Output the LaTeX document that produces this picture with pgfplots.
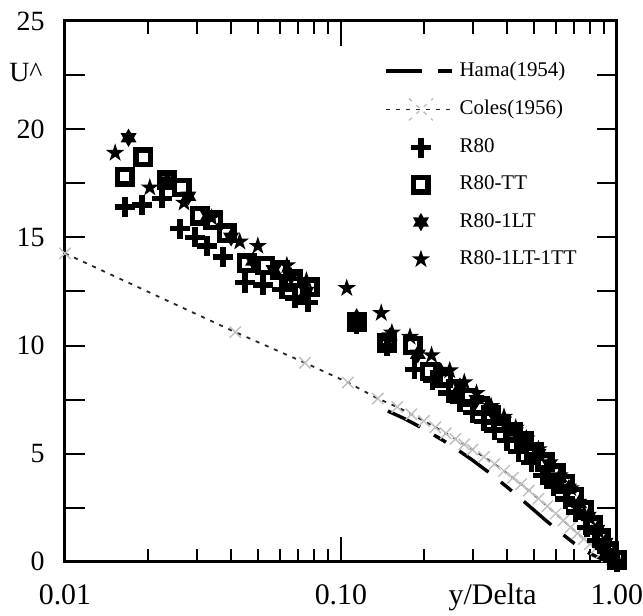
\documentclass[border=0pt]{standalone}
\usepackage{fontspec}
\setmainfont{Liberation Serif}
\usepackage{pgfplots}
\pgfplotsset{compat=1.18}
\usetikzlibrary{plotmarks}

% filled six-pointed star
\pgfdeclareplotmark{hexstar}{%
  \pgfpathmoveto{\pgfqpointpolar{90}{\pgfplotmarksize}}%
  \pgfpathlineto{\pgfqpointpolar{120}{0.577\pgfplotmarksize}}%
  \pgfpathlineto{\pgfqpointpolar{150}{\pgfplotmarksize}}%
  \pgfpathlineto{\pgfqpointpolar{180}{0.577\pgfplotmarksize}}%
  \pgfpathlineto{\pgfqpointpolar{210}{\pgfplotmarksize}}%
  \pgfpathlineto{\pgfqpointpolar{240}{0.577\pgfplotmarksize}}%
  \pgfpathlineto{\pgfqpointpolar{270}{\pgfplotmarksize}}%
  \pgfpathlineto{\pgfqpointpolar{300}{0.577\pgfplotmarksize}}%
  \pgfpathlineto{\pgfqpointpolar{330}{\pgfplotmarksize}}%
  \pgfpathlineto{\pgfqpointpolar{0}{0.577\pgfplotmarksize}}%
  \pgfpathlineto{\pgfqpointpolar{30}{\pgfplotmarksize}}%
  \pgfpathlineto{\pgfqpointpolar{60}{0.577\pgfplotmarksize}}%
  \pgfpathclose\pgfusepathqfill}
% filled five-pointed star
\pgfdeclareplotmark{pentstar}{%
  \pgfpathmoveto{\pgfqpointpolar{90}{\pgfplotmarksize}}%
  \pgfpathlineto{\pgfqpointpolar{126}{0.382\pgfplotmarksize}}%
  \pgfpathlineto{\pgfqpointpolar{162}{\pgfplotmarksize}}%
  \pgfpathlineto{\pgfqpointpolar{198}{0.382\pgfplotmarksize}}%
  \pgfpathlineto{\pgfqpointpolar{234}{\pgfplotmarksize}}%
  \pgfpathlineto{\pgfqpointpolar{270}{0.382\pgfplotmarksize}}%
  \pgfpathlineto{\pgfqpointpolar{306}{\pgfplotmarksize}}%
  \pgfpathlineto{\pgfqpointpolar{342}{0.382\pgfplotmarksize}}%
  \pgfpathlineto{\pgfqpointpolar{18}{\pgfplotmarksize}}%
  \pgfpathlineto{\pgfqpointpolar{54}{0.382\pgfplotmarksize}}%
  \pgfpathclose\pgfusepathqfill}

\pgfplotsset{coles legend/.style={legend image code/.code={%
  \draw[##1, mark=none] (0bp,0bp) -- (35bp,0bp);
  \draw[gray!50, line width=0.7bp] (11.5bp,-5.5bp) -- (23.5bp,5.5bp) (11.5bp,5.5bp) -- (23.5bp,-5.5bp);}}}

\begin{document}
\begin{tikzpicture}
\begin{axis}[
  scale only axis, width=276bp, height=270.5bp,
  clip mode=individual,
  xmode=log, xmin=0.01, xmax=1, ymin=0, ymax=25,
  xtick={0.01,0.1,1}, xticklabels={0.01,0.10,1.00},
  minor xtick={0.02,0.03,0.04,0.05,0.06,0.07,0.08,0.09,0.2,0.3,0.4,0.5,0.6,0.7,0.8,0.9},
  ytick={0,5,10,15,20,25}, minor ytick={2.5,7.5,12.5,17.5,22.5},
  tick align=inside,
  xtick style={/pgfplots/major tick length=12.5bp, /pgfplots/minor tick length=6.5bp, line width=1bp, black},
  ytick style={/pgfplots/major tick length=10bp, /pgfplots/minor tick length=10bp, line width=1bp, black},
  axis line style={line width=1.5bp},
  tick label style={inner sep=0pt},
  xticklabel style={font=\fontsize{15}{16}\selectfont, yshift=-11bp},
  yticklabel style={font=\fontsize{14}{15}\selectfont, xshift=-10bp},
  /pgf/number format/assume math mode=true,
  legend style={draw=none, fill=none, at={(0.567,0.935)}, anchor=north west,
    font=\fontsize{10.5}{11}\selectfont, row sep=8bp,
    nodes={inner sep=1bp, text height=6.8bp, text depth=1.8bp}},
  legend cell align=left,
  /tikz/every even column/.append style={column sep=10.5bp},
  legend image code/.code={\draw[mark repeat=2,mark phase=2,#1] plot coordinates {(0bp,0bp) (17.5bp,0bp) (35bp,0bp)};},
]
% Hama (1954)
\addplot[black, line width=1.7bp, dash pattern=on 18bp off 8bp on 7bp off 8bp] coordinates {
(0.148,6.97) (0.17,6.62) (0.2,6.14) (0.25,5.40) (0.3,4.70) (0.35,4.06) (0.4,3.46)
(0.45,2.90) (0.5,2.40) (0.55,1.94) (0.6,1.54) (0.65,1.18) (0.7,0.86) (0.75,0.60)
(0.8,0.38) (0.85,0.22) (0.9,0.10) (0.95,0.02) (1.0,0.0)};
\addlegendentry{Hama(1954)}
% Coles (1956)
\addplot[black!85, line width=0.9bp, dash pattern=on 2bp off 3bp, mark=x, mark size=4bp,
  mark options={solid, gray!50, line width=0.7bp}, coles legend]
coordinates {
(0.01,14.26) (0.0414,10.62) (0.0741,9.2) (0.106,8.29) (0.136,7.55) (0.16,7.16)
(0.18,6.82) (0.20,6.51) (0.22,6.22) (0.24,5.94) (0.26,5.68) (0.28,5.43) (0.30,5.19)
(0.33,4.85) (0.36,4.52) (0.39,4.20) (0.42,3.89) (0.45,3.59) (0.48,3.30) (0.52,2.92)
(0.56,2.57) (0.60,2.23) (0.64,1.91) (0.68,1.60) (0.72,1.32) (0.76,1.06) (0.80,0.82)
(0.84,0.61) (0.88,0.42) (0.92,0.25) (0.96,0.11) (1.0,0.0)};
\addlegendentry{Coles(1956)}
% R80
\addplot[only marks, mark=+, mark size=5bp, line width=2.7bp, black] coordinates {
(0.0165,16.4) (0.0190,16.5) (0.0225,16.8) (0.0261,15.4) (0.0296,15.0) (0.0327,14.6)
(0.0374,14.1) (0.0449,12.9) (0.0522,12.8) (0.0611,12.6) (0.0681,12.2) (0.0759,12.0)
(0.114,11.0) (0.147,10.0) (0.185,8.9) (0.215,8.4) (0.245,7.8) (0.27,7.4) (0.30,6.9)
(0.33,6.5) (0.36,6.1) (0.40,5.6) (0.44,5.1) (0.49,4.6) (0.54,4.0) (0.59,3.5)
(0.65,2.9) (0.71,2.3) (0.78,1.6) (0.85,1.0) (0.92,0.5) (1.00,0.0)};
\addlegendentry{R80}
% R80-TT
\addplot[only marks, mark=square, mark size=3.6bp, line width=2.7bp, black] coordinates {
(0.0165,17.8) (0.0192,18.7) (0.0234,17.65) (0.0265,17.3) (0.0308,16.0) (0.0344,15.8)
(0.0386,15.2) (0.0456,13.8) (0.0531,13.7) (0.0600,13.5) (0.0670,13.1) (0.0771,12.7)
(0.114,11.1) (0.147,10.1) (0.182,10.0) (0.21,8.8) (0.235,8.5) (0.26,8.0) (0.29,7.6)
(0.32,7.2) (0.35,6.8) (0.38,6.4) (0.42,6.0) (0.46,5.6) (0.50,5.1) (0.55,4.6)
(0.60,4.1) (0.65,3.6) (0.70,3.0) (0.76,2.4) (0.82,1.7) (0.88,1.1) (0.94,0.5) (1.00,0.1)};
\addlegendentry{R80-TT}
% R80-1LT
\addplot[only marks, mark=hexstar, mark size=4.6bp, black] coordinates {
(0.017,19.6) (0.0235,17.6) (0.028,16.9) (0.033,16.0) (0.040,15.0) (0.048,13.9)
(0.057,13.5) (0.066,13.2) (0.075,12.5) (0.114,11.3) (0.15,10.4) (0.19,9.6)
(0.23,8.8) (0.27,8.1) (0.31,7.5) (0.35,7.0) (0.39,6.5) (0.43,6.0) (0.47,5.6)
(0.52,5.0) (0.57,4.5) (0.62,3.9) (0.67,3.4) (0.73,2.7) (0.79,2.1) (0.85,1.5)
(0.91,0.9) (0.97,0.3)};
\addlegendentry{R80-1LT}
% R80-1LT-1TT
\addplot[only marks, mark=pentstar, mark size=4.8bp, black] coordinates {
(0.0152,18.9) (0.0203,17.3) (0.027,16.6) (0.034,15.9) (0.043,14.8) (0.050,14.6)
(0.0637,13.7) (0.075,13.0) (0.105,12.65) (0.14,11.5) (0.153,10.6) (0.178,10.4)
(0.213,9.55) (0.248,8.85) (0.28,8.3) (0.31,7.8) (0.35,7.2) (0.39,6.7) (0.43,6.2)
(0.47,5.7) (0.52,5.2) (0.57,4.6) (0.62,4.0) (0.68,3.4) (0.74,2.7) (0.80,2.0)
(0.86,1.4) (0.92,0.8) (0.97,0.3)};
\addlegendentry{R80-1LT-1TT}
\node[anchor=east, inner sep=0pt, font=\fontsize{14}{15}\selectfont] at (rel axis cs:0,0.904) [xshift=-11bp] {U\textasciicircum};
\node[anchor=north, inner sep=0pt, font=\fontsize{15}{16}\selectfont] at (rel axis cs:0.775,0) [yshift=-11bp] {y/Delta};
\end{axis}
\path (current axis.south west) ++(-32.5bp,-27bp) rectangle ([shift={(13bp,10.5bp)}]current axis.north east);
\end{tikzpicture}
\end{document}
